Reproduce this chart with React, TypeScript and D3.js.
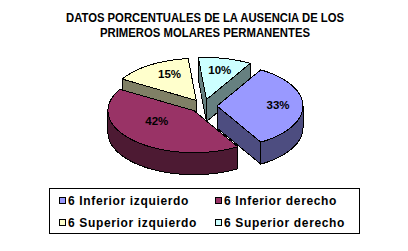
import React from 'react'
import * as d3 from 'd3'

const titleLines = [
  'DATOS PORCENTUALES DE LA AUSENCIA DE LOS',
  'PRIMEROS MOLARES PERMANENTES',
]
const categories = [
  '6 Inferior izquierdo',
  '6 Inferior derecho',
  '6 Superior izquierdo',
  '6 Superior derecho',
]
const values = [33, 42, 15, 10]
const topColors = ['#9999ff', '#993366', '#ffffcc', '#ccffff']
const sideColors = ['#4d4d80', '#4d1a33', '#808066', '#668080']

const width = 408
const height = 251
const cx = 203.5
const cy = 106
const rx = 86
const ry = 42
const depth = 22
const explode = 0.157
const rotation = (30.6 * Math.PI) / 180
const font = 'Liberation Sans, Arial, sans-serif'

// painter's order, back slices first
const drawOrder = [2, 3, 1, 0]
// the label of the big slice sits off its mid line in the original
const labelShift = [[0, -1], [6, -11], [6, -1], [0, 0]]

const pie = d3
  .pie<number>()
  .sort(null)
  .startAngle(rotation)
  .endAngle(rotation + Math.PI * 2)

const slices = pie(values)
const line = d3.line()

const project = (a: number, r = 1): [number, number] => [
  r * rx * Math.sin(a),
  -r * ry * Math.cos(a),
]

const arcPoints = (a0: number, a1: number) => {
  const n = Math.max(2, Math.ceil(((a1 - a0) * 180) / Math.PI / 2))
  return d3.range(n + 1).map((i) => project(a0 + ((a1 - a0) * i) / n))
}

const down = (p: [number, number]): [number, number] => [p[0], p[1] + depth]

// front half of the rim only, angles may run past a full turn
const rimPath = (a0: number, a1: number) => {
  const tau = Math.PI * 2
  const parts: string[] = []
  for (const k of [-1, 0, 1]) {
    const s = Math.max(a0, Math.PI / 2 + k * tau)
    const e = Math.min(a1, (Math.PI * 3) / 2 + k * tau)
    if (e > s) {
      const pts = arcPoints(s, e)
      parts.push(line([...pts, ...pts.slice().reverse().map(down)])! + 'Z')
    }
  }
  return parts.join('')
}

const App = () => {
  const legendX = d3.scalePoint<number>().domain([0, 1]).range([59, 215])
  const legendY = d3.scalePoint<number>().domain([0, 1]).range([197, 219])

  return (
    <svg
      width={width}
      height={height}
      style={{ position: 'absolute', left: 0, top: 0, background: '#fff' }}
      fontFamily={font}
    >
      {titleLines.map((t, i) => (
        <text
          key={t}
          x={205}
          y={22 + i * 15}
          textAnchor="middle"
          fontSize={12}
          fontWeight="bold"
          textLength={i === 0 ? 278 : 210}
          lengthAdjust="spacingAndGlyphs"
        >
          {t}
        </text>
      ))}

      <g shapeRendering="crispEdges" stroke="#000" strokeWidth={1} strokeLinejoin="round">
        {drawOrder.map((idx) => {
          const s = slices[idx]
          const mid = (s.startAngle + s.endAngle) / 2
          const [ox, oy] = project(mid, explode)
          const apex: [number, number] = [0, 0]
          const start = project(s.startAngle)
          const end = project(s.endAngle)
          const wall = (p: [number, number]) =>
            line([apex, p, down(p), down(apex)])! + 'Z'
          return (
            <g key={idx} transform={`translate(${cx + ox},${cy + oy})`}>
              {Math.sin(s.startAngle) < 0 && (
                <path d={wall(start)} fill={sideColors[idx]} />
              )}
              {Math.sin(s.endAngle) > 0 && (
                <path d={wall(end)} fill={sideColors[idx]} />
              )}
              <path d={rimPath(s.startAngle, s.endAngle)} fill={sideColors[idx]} />
              <path
                d={line([apex, ...arcPoints(s.startAngle, s.endAngle)])! + 'Z'}
                fill={topColors[idx]}
              />
            </g>
          )
        })}
      </g>

      {slices.map((s, idx) => {
        const mid = (s.startAngle + s.endAngle) / 2
        const [ox, oy] = project(mid, explode)
        const [lx, ly] = project(mid, 0.71)
        return (
          <text
            key={idx}
            x={cx + ox + lx + labelShift[idx][0]}
            y={cy + oy + ly + labelShift[idx][1] + 4}
            textAnchor="middle"
            fontSize={11.5}
            fontWeight="bold"
          >
            {s.data}%
          </text>
        )
      })}

      <rect x={49.5} y={188.5} width={310} height={45} fill="#fff" stroke="#000" />
      {categories.map((c, i) => {
        const x = legendX(i % 2)!
        const y = legendY(Math.floor(i / 2))!
        return (
          <g key={c}>
            <rect x={x + 0.5} y={y + 0.5} width={6} height={6} fill={topColors[i]} stroke="#000" />
            <text x={x + 9} y={y + 7.5} fontSize={12} fontWeight="bold" letterSpacing={0.65}>
              {c}
            </text>
          </g>
        )
      })}
    </svg>
  )
}

export default App
